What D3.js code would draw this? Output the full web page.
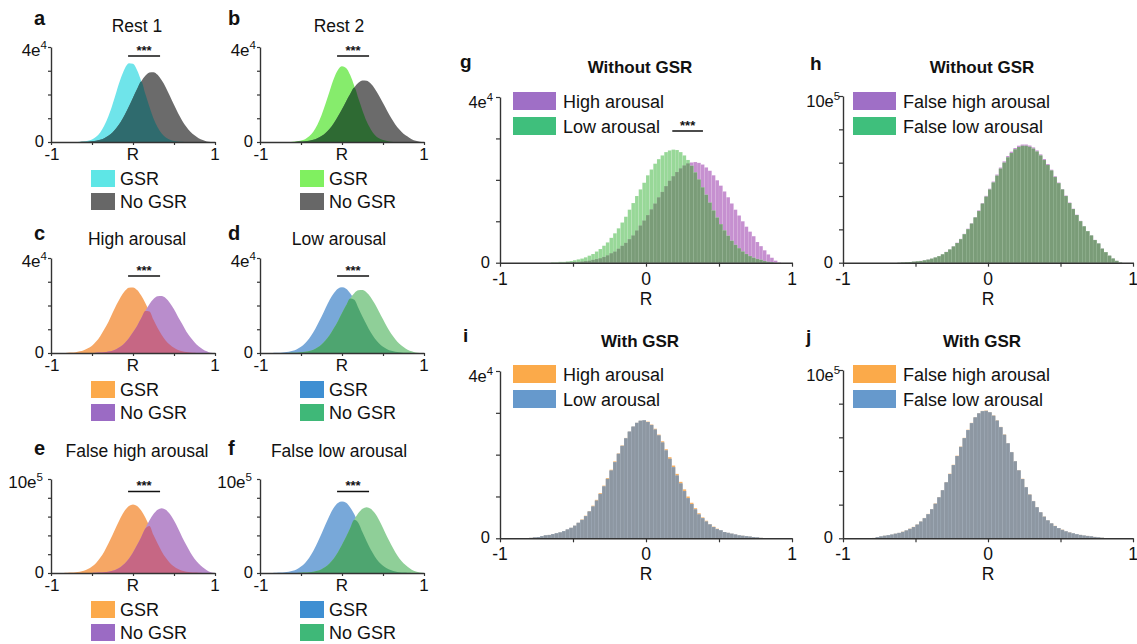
<!DOCTYPE html>
<html><head><meta charset="utf-8">
<script src="https://cdn.jsdelivr.net/npm/d3@7"></script>
<style>body{margin:0;background:#fff}svg{display:block;font-family:"Liberation Sans",Arial,Helvetica,sans-serif}</style>
</head><body><svg id="c" width="1137" height="644"></svg>
<script>
// ---------- grids / tick labels ----------
const smallGrid = d3.range(41).map(i => -1 + i * 0.05);   // R values, step 0.05
const binEdges  = d3.range(81).map(i => -1 + i * 0.025);  // histogram bin edges
const xTickValues = [-1, -0.5, 0, 0.5, 1];
const smallXLabels = [{v:-1, t:"-1"}, {v:0, t:"R"}, {v:1, t:"1"}];
const bigXLabels = [{v:-1, t:"-1"}, {v:0, t:"0"}, {v:1, t:"1"}];
const smallLegendNames = ["GSR", "No GSR"];

// ---------- panels a-f (counts, units of 1e4 or 1e5) ----------
const restOneGSR   = [0,0,0,0,0,0,0,0.01,0.02,0.05,0.11,0.22,0.40,0.69,1.08,1.58,2.14,2.67,3.10,3.32,3.29,3.02,2.57,2.03,1.48,0.99,0.62,0.36,0.19,0.09,0.04,0.02,0.01,0,0,0,0,0,0,0,0];
const restOneNoGSR = [0,0,0,0,0,0,0,0,0.01,0.01,0.03,0.05,0.09,0.16,0.26,0.40,0.60,0.84,1.15,1.49,1.86,2.23,2.55,2.79,2.93,2.94,2.83,2.60,2.30,1.94,1.57,1.21,0.90,0.64,0.43,0.28,0.16,0.08,0.02,0,0];
const restTwoGSR   = [0,0,0,0,0,0,0,0,0.01,0.03,0.06,0.12,0.24,0.43,0.73,1.13,1.62,2.15,2.66,3.03,3.19,3.12,2.82,2.36,1.83,1.32,0.87,0.54,0.30,0.16,0.08,0.04,0.01,0,0,0,0,0,0,0,0];
const restTwoNoGSR = [0,0,0,0,0,0,0,0,0,0.01,0.02,0.03,0.05,0.09,0.16,0.25,0.38,0.56,0.79,1.07,1.38,1.71,2.02,2.29,2.49,2.59,2.58,2.46,2.24,1.96,1.64,1.32,1.01,0.74,0.53,0.35,0.23,0.12,0.05,0.01,0];
const highGSR      = [0,0,0,0,0.01,0.02,0.03,0.07,0.12,0.20,0.31,0.48,0.71,1.00,1.31,1.68,2.04,2.36,2.61,2.75,2.76,2.65,2.42,2.11,1.75,1.40,1.05,0.76,0.52,0.35,0.22,0.13,0.07,0.04,0.02,0.01,0,0,0,0,0];
const highNoGSR    = [0,0,0,0,0,0,0,0,0,0,0,0.01,0.02,0.03,0.06,0.10,0.17,0.27,0.42,0.62,0.87,1.14,1.46,1.77,2.05,2.27,2.39,2.40,2.31,2.11,1.84,1.52,1.22,0.91,0.66,0.45,0.28,0.16,0.07,0.01,0];
const lowGSR       = [0,0,0,0,0.01,0.01,0.03,0.05,0.09,0.16,0.26,0.41,0.61,0.87,1.19,1.53,1.90,2.24,2.52,2.71,2.77,2.71,2.52,2.24,1.90,1.53,1.19,0.87,0.61,0.41,0.26,0.16,0.09,0.05,0.03,0.01,0.01,0,0,0,0];
const lowNoGSR     = [0,0,0,0,0,0,0,0,0.01,0.01,0.03,0.05,0.08,0.14,0.23,0.36,0.54,0.76,1.04,1.34,1.68,2.01,2.30,2.52,2.64,2.65,2.55,2.35,2.07,1.75,1.42,1.09,0.81,0.58,0.39,0.25,0.14,0.07,0.02,0,0];
const falseHighGSR   = [0,0,0,0,0.02,0.04,0.07,0.13,0.24,0.42,0.69,1.07,1.61,2.30,3.14,4.03,5.00,5.91,6.64,7.13,7.30,7.13,6.64,5.91,5.00,4.03,3.14,2.30,1.61,1.07,0.69,0.42,0.24,0.13,0.07,0.04,0.02,0,0,0,0];
const falseHighNoGSR = [0,0,0,0,0,0,0,0,0,0,0,0.02,0.04,0.07,0.12,0.23,0.40,0.65,1.01,1.52,2.17,2.97,3.81,4.73,5.58,6.27,6.74,6.90,6.74,6.27,5.58,4.73,3.81,2.97,2.17,1.52,1.01,0.60,0.30,0.08,0];
const falseLowGSR    = [0,0,0,0,0.02,0.04,0.07,0.13,0.23,0.41,0.68,1.07,1.63,2.35,3.22,4.17,5.19,6.15,6.95,7.45,7.60,7.47,6.98,6.25,5.33,4.33,3.38,2.49,1.76,1.18,0.77,0.48,0.28,0.15,0.08,0.04,0.02,0,0,0,0];
const falseLowNoGSR  = [0,0,0,0,0,0,0,0,0,0,0.02,0.04,0.07,0.12,0.23,0.40,0.66,1.03,1.54,2.21,3.01,3.86,4.80,5.67,6.37,6.84,7.00,6.84,6.37,5.67,4.80,3.86,3.01,2.21,1.54,1.03,0.66,0.35,0.15,0.04,0];

// ---------- panels g-j (histograms, 80 bins of 0.025) ----------
const noGsrHigh = [0,0,0,0,0,0,0,0,0,0,0,0,0,0,0,0,0,0,
  0.01,0.01,0.02,0.02,0.03,0.04,0.05,0.07,0.09,0.11,0.14,0.18,0.23,0.27,0.34,0.41,0.48,0.57,0.66,0.78,0.90,1.02,
  1.15,1.29,1.43,1.58,1.71,1.85,1.98,2.09,2.19,2.28,2.35,2.40,2.42,2.43,2.41,2.37,2.30,2.22,2.11,1.99,
  1.86,1.72,1.58,1.43,1.28,1.14,1.00,0.87,0.75,0.64,0.50,0.40,0.30,0.20,0.12,0.05,0.01,0,0,0];
const noGsrLow = [0,0,0,0,0,0,0,0,0,0,0,0,0,0,
  0.01,0.01,0.02,0.02,0.03,0.04,0.06,0.08,0.10,0.13,0.17,0.21,0.27,0.33,0.41,0.49,
  0.60,0.71,0.83,0.97,1.11,1.28,1.44,1.61,1.77,1.93,2.11,2.25,2.39,2.50,2.59,2.67,2.71,2.73,2.72,2.67,
  2.59,2.48,2.34,2.18,2.01,1.82,1.64,1.45,1.26,1.09,0.93,0.78,0.65,0.53,0.43,0.35,0.27,0.21,0.16,0.12,
  0.09,0.07,0.04,0.02,0.01,0,0,0,0,0];
const noGsrFalseHigh = [0,0,0,0,0,0,0,0,0,0,0,0,0,0,0,
  0.01,0.02,0.03,0.04,0.06,0.08,0.11,0.14,0.19,0.24,0.31,0.40,0.51,0.65,0.80,
  0.99,1.20,1.43,1.73,2.04,2.37,2.74,3.14,3.58,4.01,4.44,4.87,5.29,5.71,6.08,6.40,6.66,6.88,7.02,7.09,
  7.09,7.03,6.92,6.74,6.50,6.22,5.92,5.58,5.19,4.81,4.42,4.03,3.61,3.24,2.88,2.51,2.19,1.90,1.64,1.37,
  1.16,0.85,0.64,0.42,0.25,0.11,0.02,0,0,0];
const noGsrFalseLow = [0,0,0,0,0,0,0,0,0,0,0,0,0,0,0,
  0.01,0.02,0.03,0.04,0.06,0.08,0.10,0.14,0.18,0.24,0.31,0.39,0.50,0.64,0.79,
  0.97,1.18,1.41,1.71,2.01,2.34,2.71,3.10,3.54,3.96,4.39,4.81,5.22,5.64,6.00,6.32,6.58,6.80,6.94,7.01,
  7.01,6.95,6.84,6.67,6.43,6.16,5.86,5.53,5.14,4.77,4.39,4.00,3.58,3.22,2.86,2.49,2.18,1.89,1.63,1.36,
  1.15,0.84,0.63,0.42,0.25,0.11,0.02,0,0,0];
const gsrHigh = [0,0,0,0,0,0,0,0,
  0.01,0.02,0.03,0.05,0.07,0.08,0.10,0.12,0.14,0.17,0.21,0.25,
  0.30,0.37,0.45,0.54,0.65,0.78,0.92,1.08,1.26,1.44,1.64,1.84,2.03,2.22,2.40,2.55,2.67,2.76,2.81,2.82,
  2.79,2.72,2.62,2.48,2.32,2.13,1.94,1.74,1.54,1.35,1.17,1.00,0.85,0.72,0.60,0.50,0.42,0.34,0.28,0.23,
  0.19,0.15,0.13,0.11,0.09,0.07,0.06,0.05,0.04,0.03,0.02,0.01,0,0,0,0,0,0,0,0];
const gsrLow = [0,0,0,0,0,0,0,0,
  0.01,0.02,0.03,0.05,0.07,0.08,0.10,0.12,0.14,0.17,0.21,0.25,
  0.30,0.37,0.44,0.53,0.64,0.76,0.90,1.06,1.24,1.42,1.62,1.82,2.02,2.21,2.39,2.55,2.67,2.76,2.81,2.82,
  2.78,2.71,2.60,2.46,2.29,2.10,1.90,1.70,1.50,1.31,1.13,0.96,0.82,0.69,0.57,0.48,0.40,0.33,0.27,0.22,
  0.19,0.15,0.13,0.11,0.09,0.07,0.06,0.05,0.04,0.03,0.02,0.01,0,0,0,0,0,0,0,0];
const gsrFalseHigh = [0,0,0,0,0,0,0,0,
  0.02,0.06,0.11,0.15,0.18,0.22,0.27,0.32,0.39,0.47,0.57,0.68,
  0.82,1.00,1.21,1.45,1.74,2.07,2.45,2.87,3.34,3.84,4.37,4.91,5.45,5.97,6.45,6.86,7.20,7.44,7.57,7.59,
  7.50,7.30,7.01,6.62,6.17,5.66,5.13,4.59,4.05,3.54,3.05,2.61,2.22,1.86,1.55,1.29,1.07,0.89,0.74,0.61,
  0.51,0.42,0.35,0.29,0.24,0.20,0.16,0.14,0.11,0.08,0.05,0.03,0.01,0,0,0,0,0,0,0];
const gsrFalseLow = [0,0,0,0,0,0,0,0,
  0.02,0.06,0.11,0.15,0.18,0.22,0.27,0.32,0.38,0.46,0.56,0.67,
  0.81,0.99,1.19,1.43,1.72,2.05,2.43,2.85,3.32,3.82,4.35,4.89,5.43,5.95,6.43,6.84,7.18,7.42,7.55,7.57,
  7.48,7.28,6.99,6.60,6.15,5.64,5.11,4.57,4.03,3.52,3.03,2.59,2.20,1.84,1.54,1.28,1.06,0.88,0.73,0.60,
  0.50,0.41,0.34,0.29,0.24,0.20,0.16,0.14,0.11,0.08,0.05,0.03,0.01,0,0,0,0,0,0,0];

// ---------- layout & styles ----------
const svg = d3.select("#c");
const AX = "#333";

const palettes = {
  restOne: {a:"#6fe4ea", b:"#6b6b6b", ab:"#2f6b6e", legA:"#5ee6e6", legB:"#676767"},
  restTwo: {a:"#86ec6c", b:"#6b6b6b", ab:"#2e6a33", legA:"#80f060", legB:"#676767"},
  orPu:    {a:"#f6a765", b:"#b98dcc", ab:"#c66784", legA:"#fcaa4c", legB:"#9b6bc4"},
  blGr:    {a:"#78a8d9", b:"#8fcf98", ab:"#4ea570", legA:"#3f8fd2", legB:"#3fb878"},
  puGr:    {under:"#c690d0", top:"#98d898", both:"#7a9c78", legU:"#9f6fc6", legT:"#3fbf7c"},
  orBl:    {under:"#f8b060", top:"#7aa2cf", both:"#8d97a2", legU:"#fbaa4a", legT:"#6699cc"}
};

const rows = [
  {top:47, base:142, titleY:32, letterY:25, sigY:56},
  {top:258, base:353, titleY:245, letterY:240, sigY:276},
  {top:479, base:573, titleY:457, letterY:455, sigY:491.5}
];
const cols = [
  {x0:51, x1:215, letterX:34, titleX:137},
  {x0:260, x1:424, letterX:228, titleX:339}
];

const smallPanels = [
  {id:"a", title:"Rest 1", r:0, c:0, A:restOneGSR, B:restOneNoGSR, pal:"restOne", ymax:4, step:1, mant:"4e", exp:"4"},
  {id:"b", title:"Rest 2", r:0, c:1, A:restTwoGSR, B:restTwoNoGSR, pal:"restTwo", ymax:4, step:1, mant:"4e", exp:"4"},
  {id:"c", title:"High arousal", r:1, c:0, A:highGSR, B:highNoGSR, pal:"orPu", ymax:4, step:1, mant:"4e", exp:"4"},
  {id:"d", title:"Low arousal", r:1, c:1, A:lowGSR, B:lowNoGSR, pal:"blGr", ymax:4, step:1, mant:"4e", exp:"4"},
  {id:"e", title:"False high arousal", r:2, c:0, A:falseHighGSR, B:falseHighNoGSR, pal:"orPu", ymax:10, step:2, mant:"10e", exp:"5"},
  {id:"f", title:"False low arousal", r:2, c:1, A:falseLowGSR, B:falseLowNoGSR, pal:"blGr", ymax:10, step:2, mant:"10e", exp:"5"}
];
const sigRange = [-0.06, 0.33];

function styleAxis(g) {
  g.select(".domain").attr("stroke", AX).attr("stroke-width", 1.4);
  g.selectAll(".tick line").attr("stroke", AX).attr("stroke-width", 1.2);
}
function topLabel(x, y, mant, exp, size) {
  const t = svg.append("text").attr("x", x).attr("y", y).attr("text-anchor", "end")
    .attr("font-size", size).attr("fill", "#111");
  t.append("tspan").text(mant);
  t.append("tspan").attr("dy", -size * 0.42).attr("font-size", size * 0.68).text(exp);
}
function txt(x, y, s, size, opts = {}) {
  return svg.append("text").attr("x", x).attr("y", y).attr("font-size", size)
    .attr("text-anchor", opts.anchor || "start").attr("font-weight", opts.bold ? "bold" : "normal")
    .attr("fill", "#111").text(s);
}

// ---------- draw small panels ----------
smallPanels.forEach(p => {
  const R = rows[p.r], C = cols[p.c], pal = palettes[p.pal];
  const x = d3.scaleLinear().domain([-1, 1]).range([C.x0, C.x1]);
  const y = d3.scaleLinear().domain([0, p.ymax]).range([R.base, R.top]);
  const area = d3.area().x((d, i) => x(smallGrid[i])).y0(y(0)).y1(d => y(d)).curve(d3.curveMonotoneX);
  const both = p.A.map((v, i) => Math.min(v, p.B[i]));
  svg.append("path").datum(p.A).attr("d", area).attr("fill", pal.a);
  svg.append("path").datum(p.B).attr("d", area).attr("fill", pal.b);
  svg.append("path").datum(both).attr("d", area).attr("fill", pal.ab);

  styleAxis(svg.append("g").attr("transform", `translate(0,${R.base})`)
    .call(d3.axisBottom(x).tickValues(xTickValues).tickSize(3).tickSizeOuter(0).tickFormat("")));
  styleAxis(svg.append("g").attr("transform", `translate(${C.x0},0)`)
    .call(d3.axisLeft(y).tickValues(d3.range(0, p.ymax + 0.001, p.step)).tickSize(3).tickSizeOuter(0).tickFormat("")));

  smallXLabels.forEach(l => txt(x(l.v) + (l.v === -1 ? 1 : 0), R.base + 18, l.t, 17, {anchor: "middle"}));
  txt(C.x0 - 7, R.base + 5, "0", 16.5, {anchor: "end"});
  topLabel(C.x0 - (p.ymax === 10 ? 8 : 4), R.top + 9, p.mant, p.exp, 17);

  txt(C.letterX, R.letterY, p.id, 20, {bold: true});
  txt(C.titleX, R.titleY, p.title, 17.5, {anchor: "middle"});

  // significance
  svg.append("line").attr("x1", x(sigRange[0])).attr("x2", x(sigRange[1]))
    .attr("y1", R.sigY).attr("y2", R.sigY).attr("stroke", "#111").attr("stroke-width", 1.6);
  txt((x(sigRange[0]) + x(sigRange[1])) / 2, R.sigY - 1.5, "***", 13, {anchor: "middle", bold: true});

  // legend
  const lx = C.x0 + 40;
  [pal.legA, pal.legB].forEach((col, k) => {
    const yy = R.base + 28 + k * 23;
    svg.append("rect").attr("x", lx).attr("y", yy).attr("width", 24).attr("height", 17).attr("fill", col);
    txt(lx + 29, yy + 15, smallLegendNames[k], 18);
  });
});

// ---------- draw big panels ----------
const bigPanels = [
  {id:"g", title:"Without GSR", x0:500, x1:792, top:97, base:262.7, ymax:4, step:1, mant:"4e", exp:"4",
   U:noGsrHigh, T:noGsrLow, pal:"puGr", names:["High arousal","Low arousal"], titleY:73, letterX:460, letterY:68, legY:92, legX:513, sig:[0.18, 0.39]},
  {id:"h", title:"Without GSR", x0:843, x1:1133, top:96, base:262.7, ymax:10, step:2, mant:"10e", exp:"5",
   U:noGsrFalseHigh, T:noGsrFalseLow, pal:"puGr", names:["False high arousal","False low arousal"], titleY:73, letterX:810, letterY:70, legY:92, legX:853},
  {id:"i", title:"With GSR", x0:500, x1:792, top:371, base:538.3, ymax:4, step:1, mant:"4e", exp:"4",
   U:gsrHigh, T:gsrLow, pal:"orBl", names:["High arousal","Low arousal"], titleY:347, letterX:463, letterY:342, legY:365, legX:513},
  {id:"j", title:"With GSR", x0:843, x1:1133, top:370, base:538.3, ymax:10, step:2, mant:"10e", exp:"5",
   U:gsrFalseHigh, T:gsrFalseLow, pal:"orBl", names:["False high arousal","False low arousal"], titleY:347, letterX:806, letterY:343, legY:365, legX:853}
];

bigPanels.forEach(p => {
  const pal = palettes[p.pal];
  const x = d3.scaleLinear().domain([-1, 1]).range([p.x0, p.x1]);
  const y = d3.scaleLinear().domain([0, p.ymax]).range([p.base, p.top]);
  const both = p.U.map((v, i) => Math.min(v, p.T[i]));
  [[p.U, pal.under], [p.T, pal.top], [both, pal.both]].forEach(([arr, col]) => {
    svg.append("g").selectAll("rect").data(arr).join("rect")
      .attr("x", (d, i) => x(binEdges[i]))
      .attr("width", (d, i) => x(binEdges[i + 1]) - x(binEdges[i]))
      .attr("y", d => y(d)).attr("height", d => y(0) - y(d))
      .attr("fill", col).attr("stroke", "#fff").attr("stroke-opacity", 0.14).attr("stroke-width", 0.5);
  });

  styleAxis(svg.append("g").attr("transform", `translate(0,${p.base})`)
    .call(d3.axisBottom(x).tickValues(xTickValues).tickSize(4).tickSizeOuter(0).tickFormat("")));
  styleAxis(svg.append("g").attr("transform", `translate(${p.x0},0)`)
    .call(d3.axisLeft(y).tickValues(d3.range(0, p.ymax + 0.001, p.step)).tickSize(4).tickSizeOuter(0).tickFormat("")));

  bigXLabels.forEach(l => txt(x(l.v), p.base + 22, l.t, 17.5, {anchor: "middle"}));
  txt(x(0), p.base + 42, "R", 17.5, {anchor: "middle"});
  txt(p.x0 - 10, p.base + 5, "0", 16.5, {anchor: "end"});
  topLabel(p.x0 - (p.ymax === 10 ? 3 : 7), p.top + 11, p.mant, p.exp, 16.5);

  txt(p.letterX, p.letterY, p.id, 19, {bold: true});
  txt((p.x0 + p.x1) / 2 - 6, p.titleY, p.title, 17, {anchor: "middle", bold: true});

  [pal.legU, pal.legT].forEach((col, k) => {
    const yy = p.legY + k * 25;
    svg.append("rect").attr("x", p.legX).attr("y", yy).attr("width", 43).attr("height", 18).attr("fill", col);
    txt(p.legX + 50, yy + 16, p.names[k], 18);
  });

  if (p.sig) {
    svg.append("line").attr("x1", x(p.sig[0])).attr("x2", x(p.sig[1]))
      .attr("y1", 131).attr("y2", 131).attr("stroke", "#111").attr("stroke-width", 1.5);
    txt((x(p.sig[0]) + x(p.sig[1])) / 2, 130, "***", 13, {anchor: "middle", bold: true});
  }
});
</script>
</body></html>
